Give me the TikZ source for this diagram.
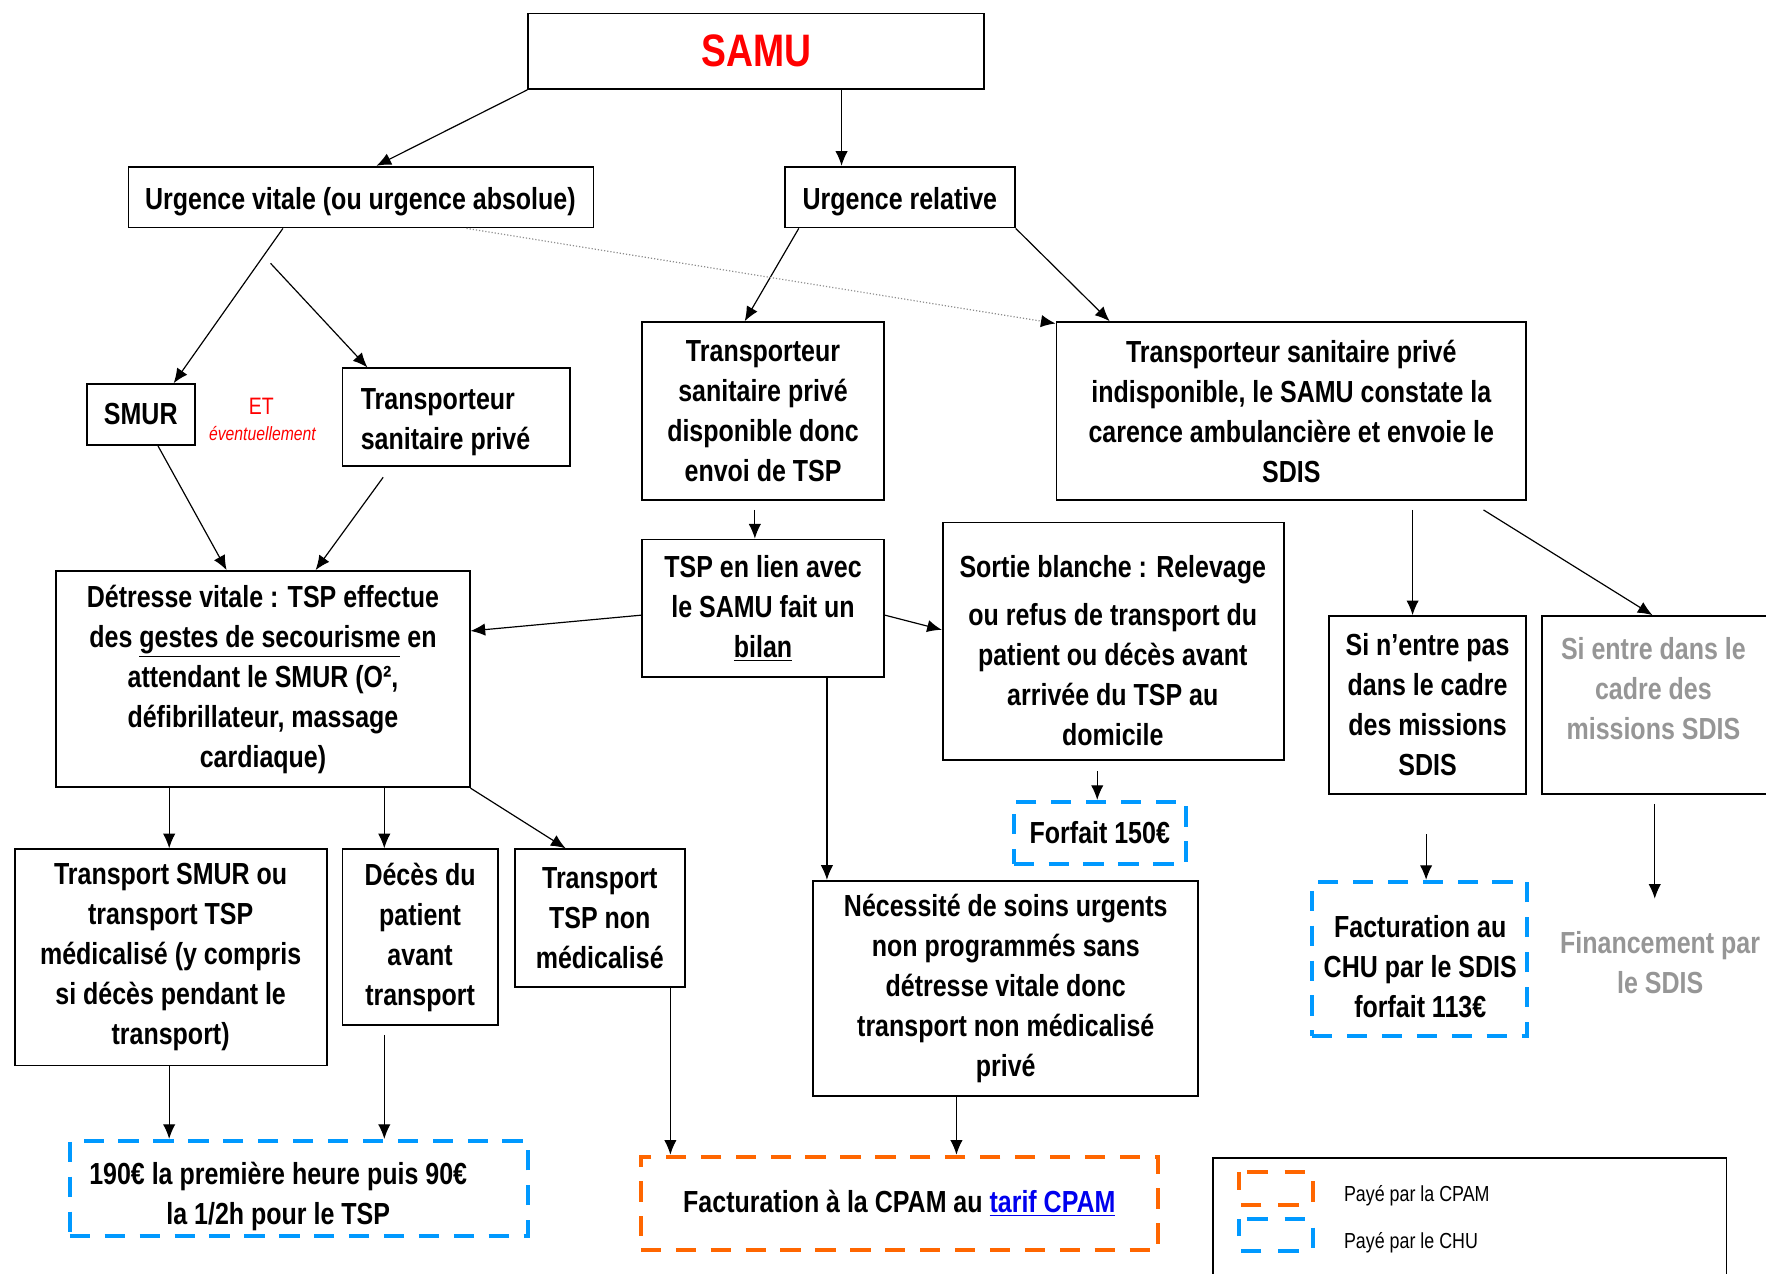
\documentclass[tikz,border=0pt]{standalone}
\usepackage{fontspec}
\newfontfamily\nf{Liberation Sans}[FakeStretch=0.82]
\usetikzlibrary{arrows.meta,calc}
\definecolor{cblue}{RGB}{0,153,255}
\definecolor{corange}{RGB}{255,102,0}
\definecolor{cgray}{RGB}{150,150,150}
\definecolor{linkblue}{RGB}{0,0,238}
\tikzset{
  bx/.style={draw=black, line width=0.9pt, inner sep=0pt, align=center,
    font=\nf\bfseries\fontsize{15.4}{20.2}\selectfont},
  dbl/.style={draw=cblue, line width=2pt, dash pattern=on 0.36cm off 0.26cm},
  dor/.style={draw=corange, line width=2pt, dash pattern=on 0.36cm off 0.26cm},
  arr/.style={line width=0.6pt, -{Latex[length=2.6mm,width=2.2mm]}},
  dotarr/.style={draw=black!45, line width=0.6pt, densely dotted,
    -{Latex[length=2.6mm,width=2.2mm,color=black]}},
  plain/.style={inner sep=0pt, align=center, font=\nf\bfseries\fontsize{15.4}{20.2}\selectfont},
  legic/.style={line width=2pt, dash pattern=on 0.37cm off 0.30cm, dash phase=0.53cm},
}
\newcommand\bxat[6][]{\node[bx,#1,minimum width={(#4-#2)*0.02cm},minimum height={(#5-#3)*0.02cm}] (#6) at ({(#2+#4)/2},{(#3+#5)/2})}
\begin{document}
\begin{tikzpicture}[x=0.02cm,y=-0.02cm]
\useasboundingbox (0,0) rectangle (1568,1131);
% boxes
\bxat{469}{12}{874}{79}{samu}{\textcolor{red}{\fontsize{23}{26}\selectfont SAMU}};
\bxat{114}{148}{527}{202}{uv}{};
\node[plain] (uvt) at (320,179) {Urgence vitale (ou urgence absolue)};
\bxat{697}{148}{901}{202}{ur}{};
\node[plain] (urt) at (799,179) {Urgence relative};
\bxat{77}{341}{173}{395}{smur}{SMUR};
\node[text=red, inner sep=0pt, font=\nf\fontsize{12}{14}\selectfont] (et) at (232,361) {ET};
\node[text=red, inner sep=0pt, font=\nf\itshape\fontsize{9.7}{12}\selectfont] (ev) at (233,385) {éventuellement};
\bxat{304}{327}{506}{414}{tl}{};
\node[plain, align=left, anchor=west] (tlt) at (320,375) {Transporteur\\sanitaire privé};
\bxat{570}{286}{785}{444}{tspd}{Transporteur\\sanitaire privé\\disponible donc\\envoi de TSP};
\bxat{938}{286}{1355}{444}{ind}{Transporteur sanitaire privé\\indisponible, le SAMU constate la\\carence ambulancière et envoie le\\SDIS};
\bxat{50}{507}{417}{699}{det}{Détresse vitale : TSP effectue\\des \underline{gestes de secourisme} en\\attendant le SMUR (O²,\\défibrillateur, massage\\cardiaque)};
\bxat{570}{479}{785}{601}{lien}{TSP en lien avec\\le SAMU fait un\\\underline{bilan}};
\bxat{837}{464}{1140}{675}{sortie}{};
\node[plain] (sortiet) at (988,578) {Sortie blanche : Relevage\\[4pt]ou refus de transport du\\patient ou décès avant\\arrivée du TSP au\\domicile};
\bxat{1180}{547}{1355}{705}{sin}{Si n’entre pas\\dans le cadre\\des missions\\SDIS};
\bxat{1369}{547}{1570}{705}{sie}{};
\node[plain, text=cgray] (siet) at (1468,611) {Si entre dans le\\cadre des\\missions SDIS};
\bxat[dbl]{900}{712}{1053}{767}{f150}{Forfait 150€};
\bxat{13}{754}{290}{946}{tsm}{Transport SMUR ou\\transport TSP\\médicalisé (y compris\\si décès pendant le\\transport)};
\bxat{304}{754}{442}{910}{dec}{Décès du\\patient\\avant\\transport};
\bxat{457}{754}{608}{876}{tnm}{Transport\\TSP non\\médicalisé};
\bxat{722}{782}{1064}{973}{nec}{Nécessité de soins urgents\\non programmés sans\\détresse vitale donc\\transport non médicalisé\\privé};
\bxat[dbl]{1165}{783}{1356}{920}{fchu}{};
\node[plain] (fchut) at (1261,858) {Facturation au\\CHU par le SDIS\\forfait 113€};
\node[plain, text=cgray] (fin) at (1474,855) {Financement par\\le SDIS};
\bxat[dbl]{62}{1013}{469}{1097}{p190}{};
\node[plain] (p190t) at (247,1062) {190€ la première heure puis 90€\\la 1/2h pour le TSP};
\bxat[dor]{569}{1027}{1028}{1110}{cpam}{Facturation à la CPAM au \textcolor{linkblue}{\underline{tarif CPAM}}};
% legend
\bxat{1077}{1028}{1533}{1150}{leg}{};
\draw[legic, draw=corange] (1100,1041) -- (1166,1041) -- (1166,1070) -- (1100,1070) -- cycle;
\draw[legic, draw=cblue] (1100,1082) -- (1166,1082) -- (1166,1111) -- (1100,1111) -- cycle;
\node[anchor=west, inner sep=0pt, font=\nf\fontsize{11}{13}\selectfont] (lt1) at (1193,1062) {Payé par la CPAM};
\node[anchor=west, inner sep=0pt, font=\nf\fontsize{11}{13}\selectfont] (lt2) at (1193,1103) {Payé par le CHU};
% connectors
\draw[arr] (samu.south west) -- ($(uv.north west)+(221,0)$);
\coordinate (s2) at ($(samu.south west)+(279,0)$);
\draw[arr] (s2) -- (s2 |- ur.north);
\draw[arr] ($(uv.south west)+(138,0)$) -- ($(smur.north west)+(78,0)$);
\draw[arr] ($(uv.south west)+(127,31)$) -- ($(tl.north west)+(23,0)$);
\draw[arr] ($(ur.south west)+(13,0)$) -- ($(tspd.north west)+(92,0)$);
\draw[arr] (ur.south east) -- ($(ind.north west)+(48,0)$);
\draw[dotarr] ($(uv.south west)+(301,0)$) -- ($(ind.north west)+(0,2)$);
\draw[arr] ($(smur.south west)+(64,0)$) -- ($(det.north west)+(152,0)$);
\draw[arr] ($(tl.south west)+(37,9)$) -- ($(det.north west)+(231,0)$);
\coordinate (s10) at ($(tspd.south west)+(101,8)$);
\draw[arr] (s10) -- (s10 |- lien.north);
\draw[arr] ($(lien.north west)+(0,68)$) -- ($(det.north east)+(0,54)$);
\draw[arr] ($(lien.north east)+(0,68)$) -- ($(sortie.north west)+(0,96)$);
\coordinate (s13) at ($(lien.south west)+(165,0)$);
\draw[arr] (s13) -- (s13 |- nec.north);
\coordinate (s14) at ($(sortie.south west)+(138,9)$);
\draw[arr] (s14) -- (s14 |- f150.north);
\coordinate (s15) at ($(ind.south west)+(317,8)$);
\draw[arr] (s15) -- (s15 |- sin.north);
\draw[arr] ($(ind.south west)+(380,8)$) -- ($(sie.north west)+(99,0)$);
\coordinate (s17) at ($(sin.south west)+(87,35)$);
\draw[arr] (s17) -- (s17 |- fchu.north);
\coordinate (s18) at ($(sie.south west)+(101,8)$);
\draw[arr] (s18) -- ($(s18 |- fin.north)+(0,-29)$);
\coordinate (s19) at ($(det.south west)+(101,0)$);
\draw[arr] (s19) -- (s19 |- tsm.north);
\coordinate (s20) at ($(det.south west)+(292,0)$);
\draw[arr] (s20) -- (s20 |- dec.north);
\draw[arr] (det.south east) -- ($(tnm.north west)+(46,0)$);
\coordinate (s22) at ($(tsm.south west)+(138,0)$);
\draw[arr] (s22) -- (s22 |- p190.north);
\coordinate (s23) at ($(dec.south west)+(38,8)$);
\draw[arr] (s23) -- (s23 |- p190.north);
\coordinate (s24) at ($(tnm.south west)+(139,0)$);
\draw[arr] (s24) -- (s24 |- cpam.north);
\coordinate (s25) at ($(nec.south west)+(128,0)$);
\draw[arr] (s25) -- (s25 |- cpam.north);
\end{tikzpicture}
\end{document}
